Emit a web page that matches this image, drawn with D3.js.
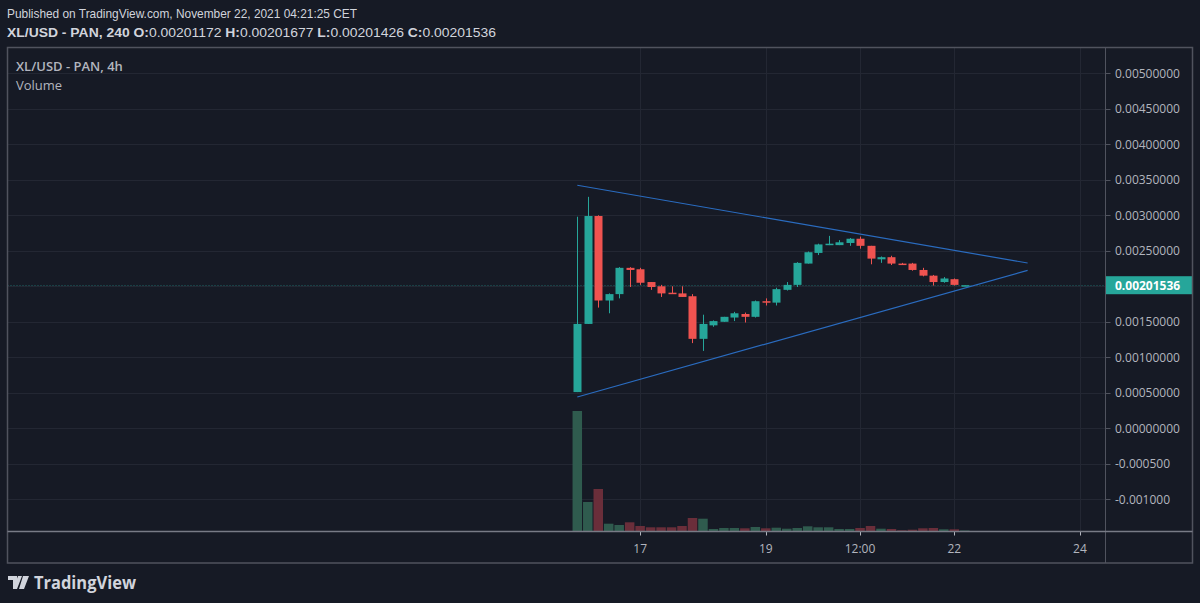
<!DOCTYPE html>
<html>
<head>
<meta charset="utf-8">
<script src="https://cdn.jsdelivr.net/npm/d3@7"></script>
<style>
  html, body { margin: 0; padding: 0; background: #161a25; }
  svg { display: block; }
  text { font-family: 'Open Sans', 'Noto Sans', sans-serif; }
  text.hdr { font-family: 'Liberation Sans', Arial, sans-serif; }
</style>
</head>
<body>
<div id="chart"></div>
<script>
// 4h candles, XL/USD - PAN
var times = [
  '2021-11-16T00:00', '2021-11-16T04:00', '2021-11-16T08:00', '2021-11-16T12:00', '2021-11-16T16:00', '2021-11-16T20:00',
  '2021-11-17T00:00', '2021-11-17T04:00', '2021-11-17T08:00', '2021-11-17T12:00', '2021-11-17T16:00', '2021-11-17T20:00',
  '2021-11-18T00:00', '2021-11-18T04:00', '2021-11-18T08:00', '2021-11-18T12:00', '2021-11-18T16:00', '2021-11-18T20:00',
  '2021-11-19T00:00', '2021-11-19T04:00', '2021-11-19T08:00', '2021-11-19T12:00', '2021-11-19T16:00', '2021-11-19T20:00',
  '2021-11-20T00:00', '2021-11-20T04:00', '2021-11-20T08:00', '2021-11-20T12:00', '2021-11-20T16:00', '2021-11-20T20:00',
  '2021-11-21T00:00', '2021-11-21T04:00', '2021-11-21T08:00', '2021-11-21T12:00', '2021-11-21T16:00', '2021-11-21T20:00',
  '2021-11-22T00:00', '2021-11-22T04:00'
];
var open = [0.00051, 0.00147, 0.00299, 0.00180, 0.00189, 0.00226, 0.00224, 0.00206, 0.00200, 0.00191, 0.00190, 0.00186,
  0.00126, 0.00145, 0.00150, 0.00156, 0.00161, 0.00157, 0.00179, 0.00177, 0.00195, 0.00202, 0.00232, 0.00247,
  0.00259, 0.00258, 0.00261, 0.00267, 0.00257, 0.00238, 0.00241, 0.00232, 0.00232, 0.00223, 0.00215, 0.00206,
  0.00210, 0.00201172];
var high = [0.00298, 0.00326, 0.00300, 0.00190, 0.00227, 0.00227, 0.00226, 0.00206, 0.00202, 0.00200, 0.00200, 0.00189,
  0.00160, 0.00152, 0.00157, 0.00164, 0.00163, 0.00180, 0.00183, 0.00198, 0.00206, 0.00234, 0.00249, 0.00260,
  0.00271, 0.00265, 0.00268, 0.00270, 0.00257, 0.00242, 0.00243, 0.00233, 0.00233, 0.00226, 0.00216, 0.00213,
  0.00211, 0.00201677];
var low = [0.00051, 0.00147, 0.00170, 0.00162, 0.00183, 0.00199, 0.00202, 0.00195, 0.00185, 0.00190, 0.00185, 0.00120,
  0.00109, 0.00143, 0.00150, 0.00151, 0.00149, 0.00156, 0.00173, 0.00173, 0.00194, 0.00199, 0.00232, 0.00244,
  0.00258, 0.00258, 0.00257, 0.00253, 0.00231, 0.00233, 0.00230, 0.00230, 0.00222, 0.00214, 0.00201, 0.00205,
  0.00201, 0.00201172];
var close = [0.00147, 0.00299, 0.00180, 0.00189, 0.00226, 0.00223, 0.00205, 0.00199, 0.00190, 0.00190, 0.00185, 0.00126,
  0.00147, 0.00151, 0.00157, 0.00162, 0.00157, 0.00179, 0.00178, 0.00196, 0.00202, 0.00233, 0.00248, 0.00259,
  0.00260, 0.00262, 0.00267, 0.00257, 0.00239, 0.00241, 0.00232, 0.00230, 0.00223, 0.00215, 0.00206, 0.00211,
  0.00202, 0.00201536];
var volume = [120000, 29000, 42000, 7300, 6000, 8700, 5000, 3700, 3700, 3700, 5000, 13000,
  12300, 2000, 3000, 3000, 2700, 4000, 2700, 3300, 2300, 3000, 4700, 3700,
  3700, 2000, 2000, 3000, 5000, 2300, 2000, 700, 1300, 2700, 3000, 1700,
  1700, 500];

// triangle drawn on the chart: [time, price]
var upperLine = [['2021-11-16T00:00', 0.003423], ['2021-11-23T04:00', 0.002328]];
var lowerLine = [['2021-11-16T00:00', 0.000441], ['2021-11-23T04:00', 0.002225]];

var priceTicks = [0.005, 0.0045, 0.004, 0.0035, 0.003, 0.0025, 0.002, 0.0015, 0.001, 0.0005, 0, -0.0005, -0.001];
var priceTickLabels = ['0.00500000', '0.00450000', '0.00400000', '0.00350000', '0.00300000', '0.00250000', '0.00200000',
  '0.00150000', '0.00100000', '0.00050000', '0.00000000', '-0.000500', '-0.001000'];
var timeTicks = ['2021-11-17T00:00', '2021-11-19T00:00', '2021-11-20T12:00', '2021-11-22T00:00', '2021-11-24T00:00'];
var timeTickLabels = ['17', '19', '12:00', '22', '24'];

var lastPrice = 0.00201536;
var lastPriceLabel = '0.00201536';

var width = 1200, height = 603;
var bg = '#161a25';
var gridColor = '#232733';
var frameColor = '#50535e';
var textColor = '#b2b5be';
var upColor = '#26a69a', downColor = '#ef5350';
var upVol = '#2f5b4e', downVol = '#6a2e3a';
var lineColor = '#2a6cc0';

var frame = { left: 7.5, top: 47.5, right: 1192.5, bottom: 563 };
var paneRight = 1105.5;
var paneBottom = 531.5;

var parse = d3.utcParse('%Y-%m-%dT%H:%M');

var svg = d3.select('#chart').append('svg')
  .attr('width', width)
  .attr('height', height)
  .style('background-color', bg);

var x = d3.scaleUtc()
  .domain([parse('2021-11-16T00:00'), parse('2021-11-22T00:00')])
  .range([577.3, 954.3]);

var y = d3.scaleLinear()
  .domain([0, 0.005])
  .range([428.3, 73.3]);

var yVol = d3.scaleLinear()
  .domain([0, d3.max(volume)])
  .range([paneBottom - 0.5, paneBottom - 120.5]);

var bodyW = 8, volW = 9.5;

// header text
var header = svg.append('g').attr('class', 'header');
header.append('text')
  .attr('class', 'hdr')
  .attr('x', 7).attr('y', 18)
  .attr('font-size', 13.5)
  .attr('fill', '#d1d4dc')
  .attr('textLength', 350)
  .attr('lengthAdjust', 'spacingAndGlyphs')
  .text('Published on TradingView.com, November 22, 2021 04:21:25 CET');
var h2 = header.append('text')
  .attr('class', 'hdr')
  .attr('x', 7).attr('y', 37)
  .attr('font-size', 13.5)
  .attr('fill', '#d1d4dc')
  .attr('textLength', 489)
  .attr('lengthAdjust', 'spacingAndGlyphs');
h2.append('tspan').attr('font-weight', 'bold').text('XL/USD - PAN, 240 ');
[['O:', open[37]], ['H:', high[37]], ['L:', 0.00201426], ['C:', close[37]]].forEach(function (p, i) {
  h2.append('tspan').attr('font-weight', 'bold').text(' ' + p[0]);
  h2.append('tspan').text(p[1].toFixed(8));
});

// grid
var grid = svg.append('g').attr('class', 'grid');
grid.selectAll('line.h')
  .data(priceTicks)
  .enter()
  .append('line')
  .attr('class', 'h')
  .attr('x1', frame.left).attr('x2', paneRight)
  .attr('y1', function (d) { return Math.round(y(d)) + 0.5; })
  .attr('y2', function (d) { return Math.round(y(d)) + 0.5; })
  .style('stroke', gridColor);
grid.selectAll('line.v')
  .data(timeTicks)
  .enter()
  .append('line')
  .attr('class', 'v')
  .attr('x1', function (d) { return Math.round(x(parse(d))) + 0.5; })
  .attr('x2', function (d) { return Math.round(x(parse(d))) + 0.5; })
  .attr('y1', frame.top).attr('y2', paneBottom)
  .style('stroke', gridColor);

// legend in pane
svg.append('text')
  .attr('x', 16).attr('y', 71)
  .attr('font-size', 13)
  .attr('font-weight', 600)
  .attr('fill', textColor)
  .text('XL/USD - PAN, 4h');
svg.append('text')
  .attr('x', 16).attr('y', 90)
  .attr('font-size', 13)
  .attr('fill', textColor)
  .text('Volume');

var idx = d3.range(times.length);

// volume
svg.append('g').attr('class', 'volume')
  .selectAll('rect')
  .data(idx)
  .enter()
  .append('rect')
  .attr('x', function (i) { return x(parse(times[i])) - volW / 2; })
  .attr('y', function (i) { return yVol(volume[i]); })
  .attr('width', volW)
  .attr('height', function (i) { return Math.max(0.5, yVol(0) - yVol(volume[i])); })
  .style('fill', function (i) { return close[i] >= open[i] ? upVol : downVol; });

// last price dotted line
svg.append('line')
  .attr('x1', frame.left).attr('x2', paneRight)
  .attr('y1', Math.round(y(lastPrice)) + 0.5)
  .attr('y2', Math.round(y(lastPrice)) + 0.5)
  .style('stroke', upColor)
  .style('stroke-opacity', 0.55)
  .style('stroke-dasharray', '1,2');

// candles
var candles = svg.append('g').attr('class', 'candles')
  .selectAll('g')
  .data(idx)
  .enter()
  .append('g');
candles.append('line')
  .attr('x1', function (i) { return Math.round(x(parse(times[i]))) + 0.5; })
  .attr('x2', function (i) { return Math.round(x(parse(times[i]))) + 0.5; })
  .attr('y1', function (i) { return y(high[i]); })
  .attr('y2', function (i) { return y(low[i]); })
  .style('stroke', function (i) { return close[i] >= open[i] ? upColor : downColor; })
  .style('stroke-width', 1);
candles.append('rect')
  .attr('x', function (i) { return Math.round(x(parse(times[i]))) + 0.5 - bodyW / 2; })
  .attr('y', function (i) { return y(Math.max(open[i], close[i])); })
  .attr('width', bodyW)
  .attr('height', function (i) { return Math.max(1.5, Math.abs(y(open[i]) - y(close[i]))); })
  .style('fill', function (i) { return close[i] >= open[i] ? upColor : downColor; });

// triangle lines
[upperLine, lowerLine].forEach(function (l) {
  svg.append('line')
    .attr('x1', x(parse(l[0][0]))).attr('y1', y(l[0][1]))
    .attr('x2', x(parse(l[1][0]))).attr('y2', y(l[1][1]))
    .style('stroke', lineColor)
    .style('stroke-width', 1.2);
});

// price axis
var pa = svg.append('g').attr('class', 'price-axis');
pa.append('rect')
  .attr('x', paneRight).attr('y', frame.top)
  .attr('width', frame.right - paneRight).attr('height', paneBottom - frame.top)
  .style('fill', bg);
pa.selectAll('line.tick')
  .data(priceTicks)
  .enter()
  .append('line')
  .attr('class', 'tick')
  .attr('x1', paneRight).attr('x2', paneRight + 5)
  .attr('y1', function (d) { return Math.round(y(d)) + 0.5; })
  .attr('y2', function (d) { return Math.round(y(d)) + 0.5; })
  .style('stroke', frameColor);
pa.selectAll('text')
  .data(priceTicks)
  .enter()
  .append('text')
  .attr('x', 1115)
  .attr('y', function (d) { return y(d) + 4.5; })
  .attr('font-size', 12)
  .attr('fill', textColor)
  .text(function (d, i) { return priceTickLabels[i]; });

// current price label
pa.append('rect')
  .attr('x', paneRight).attr('y', y(lastPrice) - 9)
  .attr('width', frame.right - paneRight).attr('height', 18)
  .style('fill', upColor);
pa.append('text')
  .attr('x', 1115).attr('y', y(lastPrice) + 4.5)
  .attr('font-size', 12)
  .attr('font-weight', 'bold')
  .attr('fill', '#ffffff')
  .text(lastPriceLabel);

// time axis
var ta = svg.append('g').attr('class', 'time-axis');
ta.selectAll('line')
  .data(timeTicks)
  .enter()
  .append('line')
  .attr('x1', function (d) { return Math.round(x(parse(d))) + 0.5; })
  .attr('x2', function (d) { return Math.round(x(parse(d))) + 0.5; })
  .attr('y1', paneBottom).attr('y2', paneBottom + 4)
  .style('stroke', textColor);
ta.selectAll('text')
  .data(timeTicks)
  .enter()
  .append('text')
  .attr('x', function (d) { return x(parse(d)); })
  .attr('y', 553)
  .attr('text-anchor', 'middle')
  .attr('font-size', 12)
  .attr('fill', textColor)
  .text(function (d, i) { return timeTickLabels[i]; });

// frame + separators
svg.append('rect')
  .attr('x', frame.left).attr('y', frame.top)
  .attr('width', frame.right - frame.left).attr('height', frame.bottom - frame.top)
  .style('fill', 'none')
  .style('stroke', frameColor)
  .style('stroke-width', 1.5);
svg.append('line')
  .attr('x1', paneRight).attr('x2', paneRight)
  .attr('y1', frame.top).attr('y2', frame.bottom)
  .style('stroke', frameColor);
svg.append('line')
  .attr('x1', frame.left).attr('x2', frame.right)
  .attr('y1', paneBottom).attr('y2', paneBottom)
  .style('stroke', '#787b86')
  .style('stroke-width', 1.5);

// footer logo
var logo = svg.append('g').attr('class', 'logo').attr('transform', 'translate(8,576)');
logo.append('path')
  .attr('d', 'M0,0 H9 V13 H5 V4 H0 Z M10,0 H14 L9,13 H5 Z M15,0 H21 L16,13 H11 Z')
  .style('fill', '#d1d4dc');
logo.append('text')
  .attr('x', 26).attr('y', 13)
  .attr('font-size', 17)
  .attr('font-weight', 'bold')
  .attr('fill', '#d1d4dc')
  .attr('textLength', 102)
  .attr('lengthAdjust', 'spacingAndGlyphs')
  .text('TradingView');
</script>
</body>
</html>
